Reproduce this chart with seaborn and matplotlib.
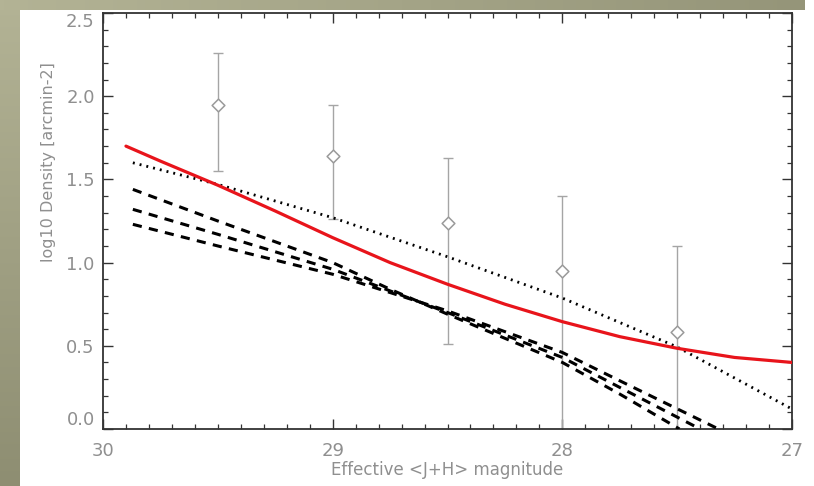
import numpy as np
import pandas as pd
import matplotlib
matplotlib.use("Agg")
import matplotlib.pyplot as plt
from matplotlib.colors import LinearSegmentedColormap
from matplotlib.ticker import MultipleLocator, FormatStrFormatter
import seaborn as sns

# Observed log10 surface densities with their error ranges
mag_obs = [29.5, 29.0, 28.5, 28.0, 27.5]
dens_obs = [1.95, 1.64, 1.24, 0.95, 0.58]
dens_hi = [2.26, 1.95, 1.63, 1.40, 1.10]
dens_lo = [1.55, 1.26, 0.51, -0.60, -0.60]

# Best-fit model (solid red)
mag_fit = [29.9, 29.75, 29.5, 29.25, 29.0, 28.75, 28.5, 28.25, 28.0, 27.75, 27.5, 27.25, 27.0]
dens_fit = [1.70, 1.61, 1.465, 1.31, 1.15, 1.00, 0.87, 0.75, 0.645, 0.555, 0.485, 0.43, 0.40]

# Reference model (dotted)
mag_dot = [29.87, 29.5, 29.0, 28.5, 28.0, 27.5, 27.0]
dens_dot = [1.60, 1.47, 1.27, 1.035, 0.787, 0.493, 0.12]

# Alternative models (dashed)
mag_dash_a = [29.87, 29.5, 29.0, 28.75, 28.5, 28.0, 27.75, 27.49]
dens_dash_a = [1.44, 1.25, 1.00, 0.84, 0.69, 0.40, 0.21, 0.00]
mag_dash_b = [29.87, 29.5, 29.0, 28.75, 28.5, 28.0, 27.75, 27.40]
dens_dash_b = [1.32, 1.17, 0.96, 0.83, 0.70, 0.43, 0.25, 0.00]
mag_dash_c = [29.87, 29.5, 29.0, 28.75, 28.5, 28.0, 27.75, 27.32]
dens_dash_c = [1.23, 1.10, 0.93, 0.82, 0.71, 0.46, 0.29, 0.00]

x_ticks = [30, 29, 28, 27]
y_ticks = [0.0, 0.5, 1.0, 1.5, 2.0, 2.5]

sns.set_theme(style="ticks")
plt.rcParams["font.family"] = ["DejaVu Sans"]

W, H = 814, 486
fig = plt.figure(figsize=(W / 100, H / 100), dpi=100)
fig.patch.set_facecolor("white")

# Slide-style background bands
band_cmap_v = LinearSegmentedColormap.from_list("bandv", ["#b3b395", "#8e8e72"])
band_cmap_h = LinearSegmentedColormap.from_list("bandh", ["#b3b395", "#959579"])
left_band = fig.add_axes([0, 0, 20 / W, 1])
left_band.imshow(np.linspace(0, 1, 200).reshape(-1, 1), cmap=band_cmap_v, aspect="auto")
left_band.set_axis_off()
top_band = fig.add_axes([0, 1 - 10 / H, 805 / W, 10 / H])
top_band.imshow(np.linspace(0, 1, 200).reshape(1, -1), cmap=band_cmap_h, aspect="auto")
top_band.set_axis_off()

ax = fig.add_axes([103 / W, 1 - 429 / H, (792 - 103) / W, (429 - 13) / H])
ax.set_facecolor("white")

grey = "#8f8f8f"

# Error bars and open diamonds
obs = pd.DataFrame({"mag": mag_obs, "dens": dens_obs, "hi": dens_hi, "lo": dens_lo})
ax.errorbar(obs["mag"], obs["dens"],
            yerr=[obs["dens"] - obs["lo"], obs["hi"] - obs["dens"]],
            fmt="none", ecolor="#a5a5a5", elinewidth=1.0, capsize=3.4, capthick=1.0, zorder=2)
sns.scatterplot(data=obs, x="mag", y="dens", marker="D", s=42, facecolor="white",
                edgecolor="#9a9a9a", linewidth=1.1, ax=ax, zorder=3)

# Dashed model curves
for mx, dy in [(mag_dash_a, dens_dash_a), (mag_dash_b, dens_dash_b), (mag_dash_c, dens_dash_c)]:
    sns.lineplot(x=mx, y=dy, sort=False, estimator=None, color="black", linewidth=2.2,
                 linestyle=(0, (3.0, 2.4)), ax=ax, zorder=4)

# Dotted model curve
sns.lineplot(x=mag_dot, y=dens_dot, sort=False, estimator=None, color="black", linewidth=2.0,
             linestyle=(0, (0.7, 1.8)), ax=ax, zorder=4)

# Fitted curve
sns.lineplot(x=mag_fit, y=dens_fit, sort=False, estimator=None, color="#e8141b", linewidth=2.3,
             ax=ax, zorder=5)

ax.set_xlim(30, 27)
ax.set_ylim(0, 2.5)
ax.set_xticks(x_ticks)
ax.set_yticks(y_ticks)
ax.xaxis.set_minor_locator(MultipleLocator(0.1))
ax.yaxis.set_minor_locator(MultipleLocator(0.1))
ax.xaxis.set_major_formatter(FormatStrFormatter("%d"))
ax.yaxis.set_major_formatter(FormatStrFormatter("%.1f"))

ax.tick_params(axis="both", which="both", direction="in", top=True, right=True,
               color="#333333", labelcolor=grey, labelsize=13)
ax.tick_params(axis="both", which="major", length=7, width=1.0)
ax.tick_params(axis="both", which="minor", length=3.5, width=0.9)
ax.tick_params(axis="x", which="major", pad=9)
ax.tick_params(axis="y", which="major", pad=6)

# End labels of the y axis sit inside the frame height
fig.canvas.draw()
ylabels = ax.get_yticklabels()
ylabels[0].set_verticalalignment("bottom")
ylabels[-1].set_verticalalignment("top")

for side in ["left", "right", "top", "bottom"]:
    ax.spines[side].set_visible(True)
    ax.spines[side].set_color("#333333")
    ax.spines[side].set_linewidth(1.3)

ax.set_xlabel("Effective <J+H> magnitude", color=grey, fontsize=12, va="center")
ax.set_ylabel("log10 Density [arcmin-2]", color=grey, fontsize=11.5, va="center")
ax.xaxis.set_label_coords(0.5, (429 - 470) / 416)
ax.yaxis.set_label_coords((49 - 103) / 689, (429 - 162) / 416)

fig.savefig("out.png", dpi=100, facecolor="white")
